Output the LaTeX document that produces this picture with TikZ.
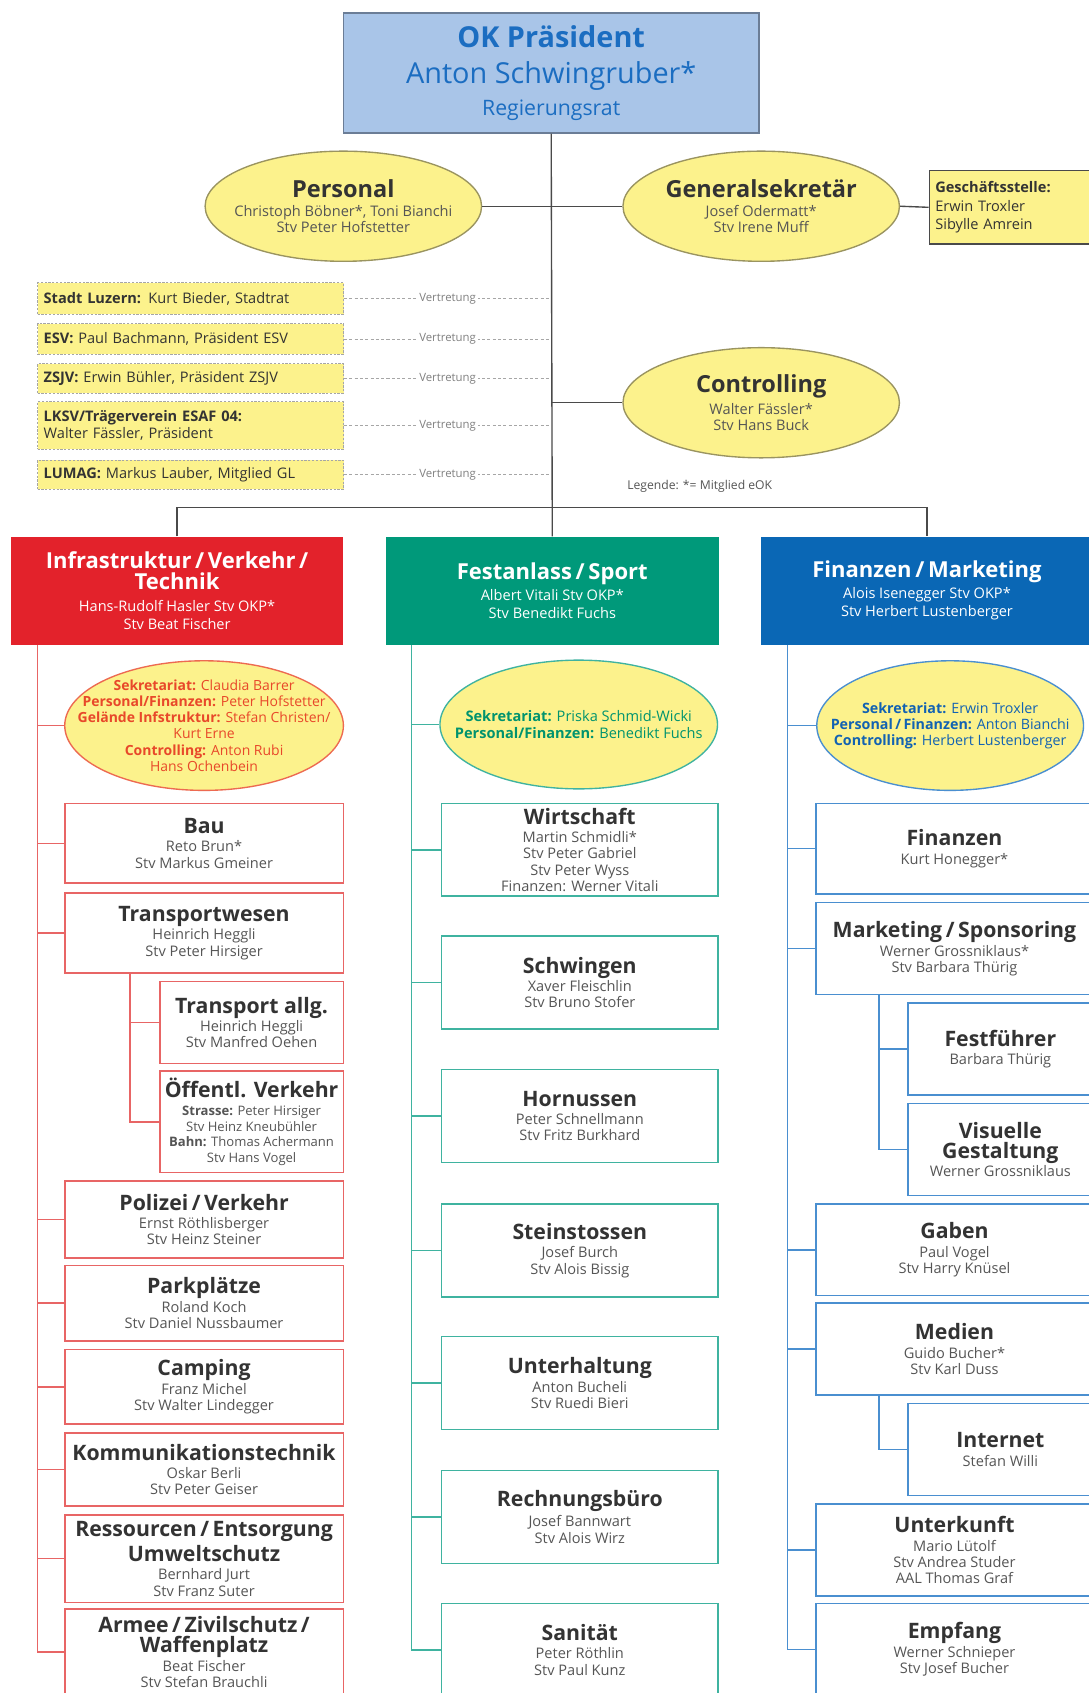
\documentclass[tikz,border=0pt]{standalone}
\usepackage{fontspec}
\setmainfont{Open Sans}
\usetikzlibrary{shapes.geometric, positioning}

\definecolor{okblau}{HTML}{A9C5E8}
\definecolor{okrand}{HTML}{6B7D96}
\definecolor{oktext}{HTML}{1B6DC1}
\definecolor{gelb}{HTML}{FCF28C}
\definecolor{ellipsenrand}{HTML}{9A9460}
\definecolor{liniengrau}{HTML}{4A4A4A}
\definecolor{titelgrau}{HTML}{333333}
\definecolor{namegrau}{HTML}{555555}
\definecolor{rot}{HTML}{E3222B}
\definecolor{gruen}{HTML}{00997A}
\definecolor{blau}{HTML}{0A67B5}
\definecolor{rotlinie}{HTML}{E86565}
\definecolor{gruenlinie}{HTML}{3FB3A0}
\definecolor{blaulinie}{HTML}{4A8FD0}
\definecolor{rottext}{HTML}{E8482A}
\definecolor{gruentext}{HTML}{00936E}
\definecolor{blautext}{HTML}{1262B2}

\newcommand{\titel}[1]{{\fontsize{14}{15}\selectfont\bfseries\color{titelgrau}#1}\\[1.5pt]}
\newcommand{\ellipsentitel}[1]{{\fontsize{15.5}{16}\selectfont\bfseries\color{titelgrau}#1}\\[2pt]}
\newcommand{\kopftitel}[1]{{\fontsize{14.5}{15}\selectfont\bfseries #1}\\[2pt]}

\begin{document}
\begin{tikzpicture}[x=0.025cm, y=-0.025cm,
    every node/.style={inner sep=1pt, font=\fontsize{9.6}{10.7}\selectfont, text=namegrau},
    linie/.style={draw=liniengrau, line width=0.9pt},
    vertretung/.style={draw=gray!70, line width=0.5pt, dash pattern=on 2pt off 1.5pt},
    gelbellipse/.style={ellipse, draw=ellipsenrand, line width=0.9pt, fill=gelb, inner sep=0pt},
    gelbkasten/.style={rectangle, fill=gelb, draw=gray!70, dash pattern=on 1.5pt off 1pt,
        line width=0.6pt, text width=6.8cm, align=left, inner sep=4pt, text=titelgrau},
    kopf/.style={rectangle, text=white, align=center, minimum width=7.7cm, minimum height=2.5cm,
        font=\fontsize{9.6}{12}\selectfont},
    rotbox/.style={rectangle, draw=rotlinie, line width=1pt, fill=white, align=center, minimum width=6.45cm},
    gruenbox/.style={rectangle, draw=gruenlinie, line width=1pt, fill=white, align=center,
        minimum width=6.4cm, minimum height=2.15cm},
    blaubox/.style={rectangle, draw=blaulinie, line width=1pt, fill=white, align=center,
        minimum width=6.4cm, minimum height=2.125cm},
]
\useasboundingbox (0,0) rectangle (1008,1568);
\fill[white] (0,0) rectangle (1008,1568);

% Spitze
\node[draw=okrand, line width=1pt, fill=okblau, text=oktext, align=center, minimum width=9.625cm,
    minimum height=2.775cm, font=\fontsize{19}{24}\selectfont] (ok) at (510.5,67.5)
    {{\bfseries\fontsize{19}{24}\selectfont OK Präsident}\\Anton Schwingruber*\\[-3pt]{\fontsize{14}{18}\selectfont Regierungsrat}};

\node[gelbellipse, minimum width=6.4cm, minimum height=2.55cm] (personal) at (318,191) {};
\node[align=center] (personal-text) at (personal) {\ellipsentitel{Personal}Christoph Böbner*, Toni Bianchi\\Stv Peter Hofstetter};
\node[gelbellipse, minimum width=6.4cm, minimum height=2.55cm] (gensek) at (705,191) {};
\node[align=center] (gensek-text) at (gensek) {\ellipsentitel{Generalsekretär}Josef Odermatt*\\Stv Irene Muff};
\node[draw=liniengrau, line width=0.9pt, fill=gelb, anchor=west, minimum height=1.7cm, text width=3.8cm,
    align=left, inner sep=4pt, text=titelgrau, font=\fontsize{9.6}{12}\selectfont] (gst) at (860,192)
    {\textbf{Geschäftsstelle:}\\Erwin Troxler\\Sibylle Amrein};
\node[gelbellipse, minimum width=6.4cm, minimum height=2.55cm] (controlling) at (705,373) {};
\node[align=center] (controlling-text) at (controlling) {\ellipsentitel{Controlling}Walter Fässler*\\Stv Hans Buck};
\node[font=\fontsize{8}{9}\selectfont] (legende) at (648,450) {Legende: *= Mitglied eOK};

% Vertretungen
\node[gelbkasten, minimum height=0.725cm] (luzern) at (176.5,276.5) {\textbf{Stadt Luzern:} Kurt Bieder, Stadtrat};
\node[gelbkasten, minimum height=0.7cm] (esv) at (176.5,314) {\textbf{ESV:} Paul Bachmann, Präsident ESV};
\node[gelbkasten, minimum height=0.675cm] (zsjv) at (176.5,350.5) {\textbf{ZSJV:} Erwin Bühler, Präsident ZSJV};
\node[gelbkasten, minimum height=1.1cm] (lksv) at (176.5,394) {\textbf{LKSV/Trägerverein ESAF 04:}\\Walter Fässler, Präsident};
\node[gelbkasten, minimum height=0.675cm] (lumag) at (176.5,439.5) {\textbf{LUMAG:} Markus Lauber, Mitglied GL};

% Ressorts
\node[kopf, fill=rot] (infra) at (164,547)
    {\kopftitel{Infrastruktur\,/\,Verkehr\,/}\kopftitel{Technik}Hans-Rudolf Hasler Stv OKP*\\Stv Beat Fischer};
\node[kopf, fill=gruen] (fest) at (511.5,547)
    {\kopftitel{Festanlass\,/\,Sport}Albert Vitali Stv OKP*\\Stv Benedikt Fuchs};
\node[kopf, fill=blau] (finmark) at (858.5,547)
    {\kopftitel{Finanzen\,/\,Marketing}Alois Isenegger Stv OKP*\\Stv Herbert Lustenberger};

% Infrastruktur / Verkehr / Technik
\node[gelbellipse, draw=rotlinie!80!orange, minimum width=6.45cm, minimum height=3cm] (sekrot) at (189,672) {};
\node[align=center, text=rottext, font=\fontsize{9.2}{10.7}\selectfont] (sekrot-text) at (sekrot)
    {\textbf{Sekretariat:} Claudia Barrer\\\textbf{Personal/Finanzen:} Peter Hofstetter\\
     \textbf{Gelände Infstruktur:} Stefan Christen/\\Kurt Erne\\\textbf{Controlling:} Anton Rubi\\Hans Ochenbein};
\node[rotbox, minimum height=1.85cm] (bau) at (189,781) {\titel{Bau}Reto Brun*\\Stv Markus Gmeiner};
\node[rotbox, minimum height=1.85cm] (transport) at (189,864) {\titel{Transportwesen}Heinrich Heggli\\Stv Peter Hirsiger};
\node[rotbox, minimum width=4.25cm, minimum height=1.9cm] (tallg) at (233,947) {\titel{Transport allg.}Heinrich Heggli\\Stv Manfred Oehen};
\node[rotbox, minimum width=4.25cm, minimum height=2.35cm, font=\fontsize{8.6}{10.4}\selectfont] (oev) at (233,1039)
    {\titel{Öffentl. Verkehr}\textbf{Strasse:} Peter Hirsiger\\Stv Heinz Kneubühler\\\textbf{Bahn:} Thomas Achermann\\Stv Hans Vogel};
\node[rotbox, minimum height=1.775cm] (polizei) at (189,1129.5) {\titel{Polizei\,/\,Verkehr}Ernst Röthlisberger\\Stv Heinz Steiner};
\node[rotbox, minimum height=1.75cm] (parkplatz) at (189,1207) {\titel{Parkplätze}Roland Koch\\Stv Daniel Nussbaumer};
\node[rotbox, minimum height=1.725cm] (camping) at (189,1284.5) {\titel{Camping}Franz Michel\\Stv Walter Lindegger};
\node[rotbox, minimum height=1.7cm] (kommunikation) at (189,1361) {\titel{Kommunikationstechnik}Oskar Berli\\Stv Peter Geiser};
\node[rotbox, minimum height=2.025cm] (ressourcen) at (189,1443.5)
    {\titel{Ressourcen\,/\,Entsorgung}\titel{Umweltschutz}Bernhard Jurt\\Stv Franz Suter};
\node[rotbox, minimum height=2cm] (armee) at (189,1530)
    {\titel{Armee\,/\,Zivilschutz\,/}\titel{Waffenplatz}Beat Fischer\\Stv Stefan Brauchli};

% Festanlass / Sport
\node[gelbellipse, draw=gruenlinie, minimum width=6.425cm, minimum height=2.98cm] (sekgruen) at (536,671) {};
\node[align=center, text=gruentext] (sekgruen-text) at (sekgruen)
    {\textbf{Sekretariat:} Priska Schmid-Wicki\\\textbf{Personal/Finanzen:} Benedikt Fuchs};
\node[gruenbox] (wirtschaft) at (537,787) {\titel{Wirtschaft}Martin Schmidli*\\Stv Peter Gabriel\\Stv Peter Wyss\\Finanzen: Werner Vitali};
\node[gruenbox] (schwingen) at (537,910) {\titel{Schwingen}Xaver Fleischlin\\Stv Bruno Stofer};
\node[gruenbox] (hornussen) at (537,1033.5) {\titel{Hornussen}Peter Schnellmann\\Stv Fritz Burkhard};
\node[gruenbox] (stein) at (537,1158) {\titel{Steinstossen}Josef Burch\\Stv Alois Bissig};
\node[gruenbox] (unterhaltung) at (537,1281) {\titel{Unterhaltung}Anton Bucheli\\Stv Ruedi Bieri};
\node[gruenbox] (rechnung) at (537,1405) {\titel{Rechnungsbüro}Josef Bannwart\\Stv Alois Wirz};
\node[gruenbox] (sanitaet) at (537,1528) {\titel{Sanität}Peter Röthlin\\Stv Paul Kunz};

% Finanzen / Marketing
\node[gelbellipse, draw=blaulinie, minimum width=6.175cm, minimum height=3cm] (sekblau) at (880,672) {};
\node[align=center, text=blautext, font=\fontsize{9.4}{10.7}\selectfont] (sekblau-text) at (sekblau)
    {\textbf{Sekretariat:} Erwin Troxler\\\textbf{Personal\,/\,Finanzen:} Anton Bianchi\\\textbf{Controlling:} Herbert Lustenberger};
\node[blaubox, minimum height=2.1cm] (finanzen) at (884,786) {\titel{Finanzen}Kurt Honegger*};
\node[blaubox] (marketing) at (884,878.5) {\titel{Marketing\,/\,Sponsoring}Werner Grossniklaus*\\Stv Barbara Thürig};
\node[blaubox, minimum width=4.275cm] (festfuehrer) at (926.5,971.5) {\titel{Festführer}Barbara Thürig};
\node[blaubox, minimum width=4.275cm] (visuell) at (926.5,1064.5) {\titel{Visuelle}\titel{Gestaltung}Werner Grossniklaus};
\node[blaubox] (gaben) at (884,1157.5) {\titel{Gaben}Paul Vogel\\Stv Harry Knüsel};
\node[blaubox] (medien) at (884,1249.5) {\titel{Medien}Guido Bucher*\\Stv Karl Duss};
\node[blaubox, minimum width=4.275cm] (internet) at (926.5,1342.5) {\titel{Internet}Stefan Willi};
\node[blaubox] (unterkunft) at (884,1435.5) {\titel{Unterkunft}Mario Lütolf\\Stv Andrea Studer\\AAL Thomas Graf};
\node[blaubox] (empfang) at (884,1527.5) {\titel{Empfang}Werner Schnieper\\Stv Josef Bucher};

% Verbindungen oben
\coordinate (busmitte) at (511,470);
\draw[linie] (ok.south) -- (fest.north);
\draw[linie] (personal.east) -- (gensek.west);
\draw[linie] (gensek.east) -- (gst.west);
\draw[linie] (ok.south |- controlling.west) -- (controlling.west);
\draw[linie] (infra.north) |- (busmitte) -| (finmark.north);
\foreach \v in {luzern, esv, zsjv, lksv, lumag} {
    \draw[vertretung] (\v.east) -- (\v.east -| ok.south)
        node[midway, fill=white, inner sep=1.5pt, font=\fontsize{7.5}{8}\selectfont, text=gray] {Vertretung};
}

% Linien der Ressorts
\coordinate (rs) at ([xshift=0.625cm]infra.south west);
\coordinate (ts) at ([xshift=1.525cm]transport.south west);
\draw[rotlinie, line width=1pt] (rs) |- (armee.west);
\foreach \n in {sekrot, bau, transport, polizei, parkplatz, camping, kommunikation, ressourcen}
    \draw[rotlinie, line width=1pt] (rs |- \n.west) -- (\n.west);
\draw[rotlinie, line width=1pt] (ts) |- (oev.west);
\draw[rotlinie, line width=1pt] (ts |- tallg.west) -- (tallg.west);

\coordinate (gs) at ([xshift=0.6cm]fest.south west);
\draw[gruenlinie, line width=1pt] (gs) |- (sanitaet.west);
\foreach \n in {sekgruen, wirtschaft, schwingen, hornussen, stein, unterhaltung, rechnung}
    \draw[gruenlinie, line width=1pt] (gs |- \n.west) -- (\n.west);

\coordinate (bs) at ([xshift=0.625cm]finmark.south west);
\coordinate (ms) at ([xshift=1.475cm]marketing.south west);
\coordinate (mds) at ([xshift=1.475cm]medien.south west);
\draw[blaulinie, line width=1pt] (bs) |- (empfang.west);
\foreach \n in {sekblau, finanzen, marketing, gaben, medien, unterkunft}
    \draw[blaulinie, line width=1pt] (bs |- \n.west) -- (\n.west);
\draw[blaulinie, line width=1pt] (ms) |- (visuell.west);
\draw[blaulinie, line width=1pt] (ms |- festfuehrer.west) -- (festfuehrer.west);
\draw[blaulinie, line width=1pt] (mds) |- (internet.west);

\end{tikzpicture}
\end{document}
